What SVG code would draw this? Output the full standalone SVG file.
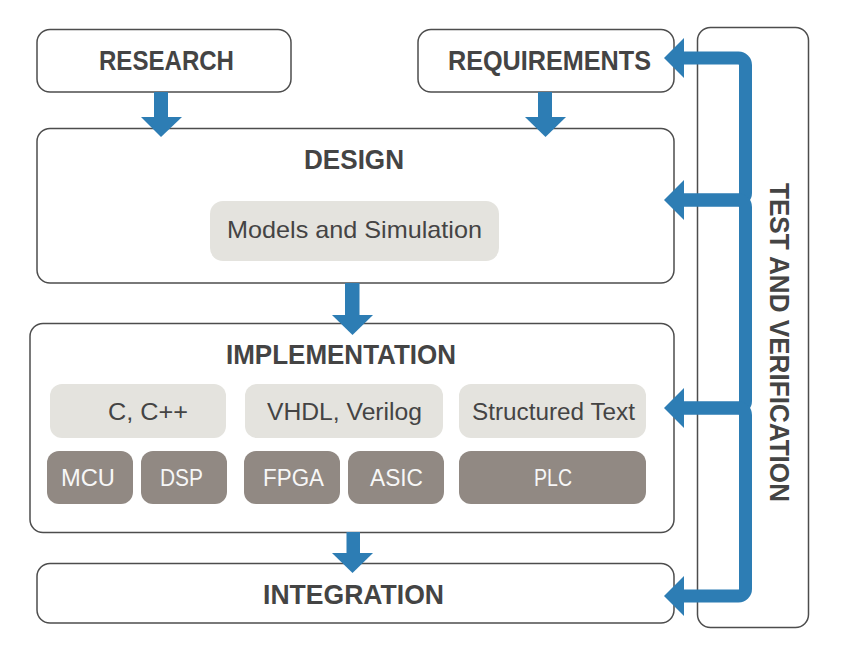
<svg xmlns="http://www.w3.org/2000/svg" width="865" height="667" viewBox="0 0 865 667">
<style>
.box{fill:#fff;stroke:#4d4d4d;stroke-width:1.5}
.lt{fill:#e4e3de}
.dk{fill:#918983}
.hd{font-family:"Liberation Sans",Arial,sans-serif;font-weight:700;font-size:28px;fill:#444;text-anchor:middle}
.tl{font-family:"Liberation Sans",Arial,sans-serif;font-size:23px;fill:#444;text-anchor:middle}
.td{font-family:"Liberation Sans",Arial,sans-serif;font-size:23px;fill:#f7f7f7;text-anchor:middle}
.cn{fill:none;stroke:#2d7db4;stroke-width:13}
.ah{fill:#2d7db4}
</style>
<rect width="865" height="667" fill="#fff"/>
<g id="test-verification">
<rect class="box" x="697.5" y="27.5" width="111" height="600" rx="13"/>
<text class="hd" transform="translate(770,342.5) rotate(90)" textLength="319" lengthAdjust="spacingAndGlyphs">TEST AND VERIFICATION</text>
</g>
<g id="research">
<rect class="box" x="37" y="29.5" width="254" height="62.5" rx="13"/>
<text class="hd" x="166.5" y="70" textLength="135" lengthAdjust="spacingAndGlyphs">RESEARCH</text>
</g>
<g id="requirements">
<rect class="box" x="418" y="29.5" width="256" height="62.5" rx="13"/>
<text class="hd" x="549.5" y="70" textLength="203" lengthAdjust="spacingAndGlyphs">REQUIREMENTS</text>
</g>
<g id="design">
<rect class="box" x="37" y="128.5" width="637" height="154.5" rx="13"/>
<text class="hd" x="354" y="169" textLength="100" lengthAdjust="spacingAndGlyphs">DESIGN</text>
<rect class="lt" x="210" y="201" width="289" height="60" rx="13"/>
<text class="tl" x="354.5" y="238" textLength="255" lengthAdjust="spacingAndGlyphs" style="font-size:24px">Models and Simulation</text>
</g>
<g id="implementation">
<rect class="box" x="30" y="323.5" width="644" height="209" rx="13"/>
<text class="hd" x="341" y="364" textLength="230" lengthAdjust="spacingAndGlyphs">IMPLEMENTATION</text>
<rect class="lt" x="50" y="384" width="176" height="54" rx="12"/>
<text class="tl" x="148" y="420" textLength="80" lengthAdjust="spacingAndGlyphs">C, C++</text>
<rect class="lt" x="245" y="384" width="198" height="54" rx="12"/>
<text class="tl" x="344.5" y="420" textLength="155" lengthAdjust="spacingAndGlyphs">VHDL, Verilog</text>
<rect class="lt" x="459" y="384" width="187" height="54" rx="12"/>
<text class="tl" x="553.5" y="420" textLength="163" lengthAdjust="spacingAndGlyphs">Structured Text</text>
<rect class="dk" x="47" y="451" width="86" height="53" rx="12"/>
<text class="td" x="88" y="486" textLength="54" lengthAdjust="spacingAndGlyphs">MCU</text>
<rect class="dk" x="141" y="451" width="86" height="53" rx="12"/>
<text class="td" x="181.5" y="486" textLength="43" lengthAdjust="spacingAndGlyphs">DSP</text>
<rect class="dk" x="244" y="451" width="96" height="53" rx="12"/>
<text class="td" x="293.5" y="486" textLength="61" lengthAdjust="spacingAndGlyphs">FPGA</text>
<rect class="dk" x="348" y="451" width="96" height="53" rx="12"/>
<text class="td" x="396.5" y="486" textLength="53" lengthAdjust="spacingAndGlyphs">ASIC</text>
<rect class="dk" x="459" y="451" width="187" height="53" rx="12"/>
<text class="td" x="553" y="486" textLength="38" lengthAdjust="spacingAndGlyphs">PLC</text>
</g>
<g id="integration">
<rect class="box" x="37" y="563.5" width="637" height="59.5" rx="13"/>
<text class="hd" x="353.5" y="604" textLength="181" lengthAdjust="spacingAndGlyphs">INTEGRATION</text>
</g>
<g id="connectors">
<rect class="ah" x="154" y="92" width="14" height="26"/>
<polygon class="ah" points="141,117 182,117 161,137"/>
<rect class="ah" x="538" y="92" width="14" height="26"/>
<polygon class="ah" points="525,117 566,117 545.5,137"/>
<rect class="ah" x="345" y="283" width="14.5" height="33"/>
<polygon class="ah" points="332,315 373,315 352.5,335"/>
<rect class="ah" x="346.5" y="532" width="13.5" height="22"/>
<polygon class="ah" points="332,553 373,553 352.5,573"/>
<path class="cn" d="M683 58 H738.5 A7 7 0 0 1 745.5 65 V193 A7 7 0 0 1 738.5 200 H683"/>
<path class="cn" d="M683 200 H738.5 A7 7 0 0 1 745.5 207 V401 A7 7 0 0 1 738.5 408 H683"/>
<path class="cn" d="M683 408 H738.5 A7 7 0 0 1 745.5 415 V589 A7 7 0 0 1 738.5 596 H683"/>
<polygon class="ah" points="664,58 684,38 684,78"/>
<polygon class="ah" points="664,200 684,180 684,220"/>
<polygon class="ah" points="664,408 684,388 684,428"/>
<polygon class="ah" points="664,596 684,576 684,616"/>
</g>
</svg>
